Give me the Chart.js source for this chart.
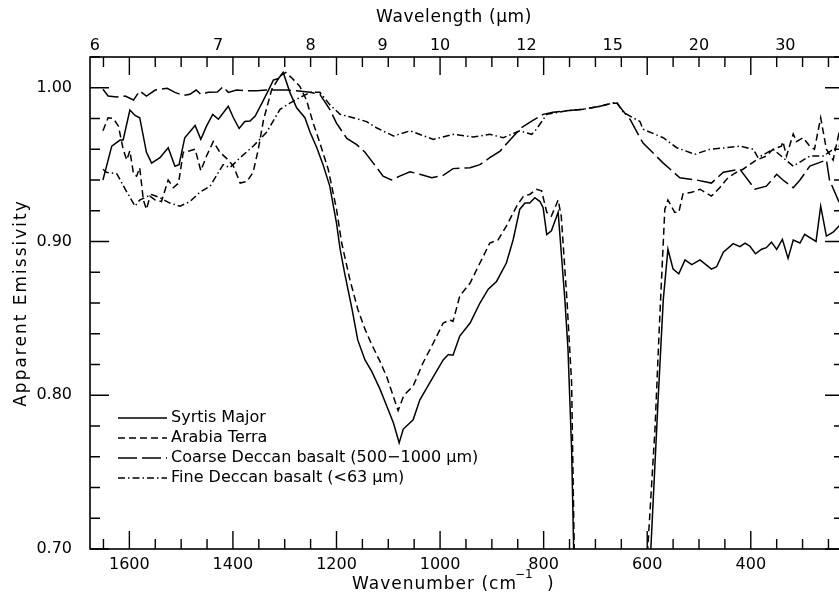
<!DOCTYPE html>
<html>
<head>
<meta charset="utf-8">
<script src="https://cdn.jsdelivr.net/npm/chart.js@4.4.1/dist/chart.umd.min.js"></script>
<style>
  html, body { margin: 0; padding: 0; background: #fff; overflow: hidden; }
  canvas { display: block; }
</style>
</head>
<body>
<canvas id="spectra" width="850" height="597"></canvas>
<script>
// ---- axis labels ----
const wnLabels = [1600, 1400, 1200, 1000, 800, 600, 400];      // bottom, cm-1
const wlLabels = [6, 7, 8, 9, 10, 12, 15, 20, 30];             // top, microns
const yLabels = [0.70, 0.80, 0.90, 1.00];

// ---- Syrtis Major (TES) ----
const syrtisWn = [1651,1634,1618,1612,1599,1589,1580,1567,1557,1541,
  1525,1512,1504,1493,1473,1462,1451,1439,1428,1409,
  1399,1388,1377,1367,1357,1344,1332,1322,1312,1303,
  1290,1277,1261,1251,1238,1226,1213,1200,1193,1184,
  1170,1159,1145,1132,1116,1103,1090,1079,1071,1052,
  1039,1020,994,984,975,962,942,923,907,891,
  872,859,846,836,827,817,807,801,794,785,
  772,769,759,753,746,742,738,670,597,593,
  579,569,560,550,539,527,514,498,476,466,
  453,434,421,411,402,391,379,370,360,350,
  339,328,318,305,296,274,265,254,241,230,
  220];
const syrtisVal = [0.940,0.962,0.966,0.966,0.9855,0.982,0.9805,0.958,0.951,0.9545,
  0.961,0.949,0.950,0.9675,0.9755,0.9665,0.975,0.9827,0.9795,0.988,
  0.9805,0.9735,0.978,0.9783,0.9816,0.990,0.998,1.005,1.006,1.010,
  0.997,0.987,0.9805,0.971,0.961,0.950,0.936,0.912,0.895,0.879,
  0.856,0.836,0.823,0.8155,0.804,0.793,0.782,0.769,0.778,0.784,
  0.797,0.808,0.823,0.8265,0.826,0.8385,0.847,0.860,0.869,0.874,
  0.886,0.901,0.921,0.925,0.925,0.9285,0.926,0.922,0.9045,0.907,
  0.919,0.906,0.862,0.830,0.765,0.700,0.640,null,0.660,0.700,
  0.797,0.862,0.895,0.882,0.879,0.888,0.885,0.888,0.882,0.8836,
  0.893,0.8986,0.8966,0.899,0.897,0.892,0.895,0.896,0.8996,0.8949,
  0.9014,0.889,0.901,0.899,0.9046,0.900,0.923,0.9035,0.906,0.910,
  0.912];

// ---- Arabia Terra (TES) ----
const arabiaWn = [1651,1641,1631,1621,1612,1605,1599,1592,1586,1580,
  1573,1567,1560,1550,1538,1525,1515,1505,1496,1483,
  1473,1462,1451,1438,1425,1409,1399,1386,1373,1361,
  1351,1341,1325,1309,1298,1287,1271,1258,1245,1232,
  1216,1200,1190,1174,1159,1145,1132,1116,1103,1090,
  1081,1071,1065,1052,1033,1013,994,981,975,962,
  942,923,904,888,872,852,839,827,814,804,
  794,785,772,766,755,746,741,737,670,603,
  599,585,576,566,560,547,539,531,514,498,
  476,460,444,428,415,402,389,370,357,341,
  338,331,318,312,299,286,277,265,254,241,
  230,220];
const arabiaVal = [0.972,0.9805,0.980,0.975,0.960,0.953,0.959,0.944,0.9425,0.948,
  0.927,0.921,0.9295,0.927,0.926,0.940,0.935,0.938,0.958,0.959,
  0.960,0.946,0.9556,0.965,0.958,0.953,0.949,0.938,0.939,0.945,
  0.960,0.979,0.999,1.0076,1.010,1.0066,1.001,0.992,0.977,0.964,
  0.947,0.921,0.899,0.875,0.856,0.843,0.833,0.822,0.812,0.799,
  0.790,0.799,0.8016,0.806,0.821,0.834,0.847,0.849,0.848,0.8645,
  0.873,0.886,0.899,0.901,0.910,0.923,0.9295,0.9306,0.934,0.933,
  0.919,0.9165,0.927,0.9165,0.862,0.808,0.700,0.640,null,0.640,
  0.700,0.778,0.849,0.921,0.927,0.919,0.919,0.931,0.932,0.934,
  0.9295,0.935,0.9415,0.945,0.947,0.950,0.953,0.9556,0.960,0.962,
  0.965,0.9556,0.970,0.965,0.9675,0.962,0.960,0.9805,0.960,0.953,
  0.970,0.966];

// ---- Coarse Deccan basalt (lab) ----
const coarseWn = [1651,1641,1624,1608,1592,1580,1567,1550,1527,1512,
  1496,1483,1471,1462,1448,1430,1419,1409,1393,1373,
  1354,1335,1316,1296,1277,1251,1232,1213,1200,1180,
  1161,1145,1129,1110,1094,1078,1058,1039,1016,994,
  975,942,923,904,884,865,843,820,801,782,
  756,724,691,667,659,633,614,608,569,537,
  505,476,453,421,392,370,350,338,318,305,
  286,254,248,230,220];
const coarseVal = [0.999,0.9946,0.994,0.9946,0.992,0.998,0.9946,0.9985,0.9996,0.997,
  0.995,0.9957,0.9985,0.9957,0.997,0.9972,1.0007,0.997,0.9985,0.998,
  0.998,0.9985,0.9985,0.9985,0.998,0.997,0.9957,0.986,0.977,0.967,
  0.963,0.958,0.951,0.9425,0.940,0.9425,0.9454,0.9437,0.9415,0.943,
  0.9474,0.948,0.950,0.9545,0.9588,0.966,0.974,0.979,0.9827,0.984,
  0.985,0.986,0.988,0.990,0.990,0.9794,0.9675,0.964,0.951,0.9415,
  0.940,0.938,0.945,0.947,0.934,0.936,0.9437,0.940,0.935,0.940,
  0.949,0.953,0.940,0.926,0.922];

// ---- Fine Deccan basalt (lab) ----
const fineWn = [1651,1644,1624,1608,1589,1580,1557,1541,1522,1502,
  1483,1464,1444,1419,1406,1386,1361,1335,1309,1290,
  1271,1251,1232,1213,1193,1168,1142,1123,1090,1058,
  1013,975,936,904,878,846,823,814,794,756,
  724,691,667,659,646,614,608,569,543,508,
  479,447,421,395,386,357,318,286,260,241,
  230,220];
const fineVal = [0.947,0.945,0.944,0.934,0.923,0.927,0.9306,0.9285,0.925,0.923,
  0.926,0.932,0.936,0.950,0.948,0.9545,0.962,0.971,0.986,0.990,
  0.9936,0.997,0.997,0.989,0.9827,0.9805,0.978,0.974,0.9686,0.972,
  0.9664,0.9697,0.968,0.9697,0.9675,0.972,0.9697,0.973,0.9827,0.985,
  0.986,0.988,0.990,0.9907,0.984,0.978,0.973,0.9675,0.961,0.9567,
  0.960,0.961,0.962,0.960,0.9545,0.960,0.949,0.9556,0.9556,0.960,
  0.962,0.963];

const FONT = 'DejaVu Sans';
Chart.defaults.font.family = FONT;
Chart.defaults.font.size = 16;
Chart.defaults.color = '#000';

function toPoints(wn, val) {
  return wn.map((w, i) => ({ x: w, y: val[i] }));
}

function series(label, wn, val, dash) {
  return {
    label: label,
    data: toPoints(wn, val),
    borderColor: '#000',
    borderWidth: 1.5,
    borderDash: dash,
    pointRadius: 0,
    tension: 0,
    spanGaps: false,
    fill: false
  };
}

// border box + inward tick marks on all four sides, wavelength labels on top
const frame = {
  id: 'frame',
  afterDraw(chart) {
    const { ctx, chartArea: a, scales } = chart;
    ctx.save();
    ctx.strokeStyle = '#000';
    ctx.setLineDash([]);
    ctx.lineWidth = 1.6;
    ctx.strokeRect(a.left, a.top, a.right - a.left, a.bottom - a.top);
    ctx.lineWidth = 1.4;
    ctx.beginPath();
    for (let w = 250; w <= 1650; w += 50) {
      const px = scales.x.getPixelForValue(w);
      const len = w % 200 === 0 ? 18 : 10;
      ctx.moveTo(px, a.bottom); ctx.lineTo(px, a.bottom - len);
      ctx.moveTo(px, a.top); ctx.lineTo(px, a.top + len);
    }
    for (let i = 0; i <= 16; i++) {
      const py = scales.y.getPixelForValue(0.70 + i * 0.02);
      const len = i % 5 === 0 ? 19 : 10;
      ctx.moveTo(a.left, py); ctx.lineTo(a.left + len, py);
      ctx.moveTo(a.right, py); ctx.lineTo(a.right - len, py);
    }
    ctx.stroke();

    ctx.fillStyle = '#000';
    ctx.font = '16px ' + FONT;
    ctx.textAlign = 'center';
    ctx.textBaseline = 'middle';
    wlLabels.forEach(l => {
      ctx.fillText(String(l), scales.x.getPixelForValue(10000 / l), 46);
    });
    ctx.restore();
  }
};

// axis titles and the in-plot legend
const annotations = {
  id: 'annotations',
  afterDraw(chart) {
    const { ctx } = chart;
    ctx.save();
    ctx.fillStyle = '#000';
    ctx.textBaseline = 'middle';

    ctx.font = '17px ' + FONT;
    ctx.letterSpacing = '0.6px';
    ctx.textAlign = 'center';
    ctx.fillText('Wavelength (\u03bcm)', 454, 18);

    // wavenumber title with raised -1
    ctx.letterSpacing = '1px';
    ctx.textAlign = 'left';
    ctx.fillText('Wavenumber (cm', 352, 585);
    ctx.font = '12px ' + FONT;
    ctx.letterSpacing = '0px';
    ctx.fillText('\u22121', 515, 575);
    ctx.font = '17px ' + FONT;
    ctx.fillText(')', 547, 585);

    ctx.save();
    ctx.translate(22, 303);
    ctx.rotate(-Math.PI / 2);
    ctx.letterSpacing = '2px';
    ctx.textAlign = 'center';
    ctx.fillText('Apparent Emissivity', 0, 0);
    ctx.restore();

    ctx.font = '16px ' + FONT;
    ctx.letterSpacing = '0px';
    ctx.textAlign = 'left';
    ctx.lineWidth = 1.5;
    ctx.strokeStyle = '#000';
    chart.data.datasets.forEach((ds, i) => {
      const y = 418 + i * 20;
      ctx.setLineDash(ds.borderDash || []);
      ctx.beginPath();
      ctx.moveTo(118, y);
      ctx.lineTo(167, y);
      ctx.stroke();
      ctx.fillText(ds.label, 171, y);
    });
    ctx.restore();
  }
};

new Chart(document.getElementById('spectra'), {
  type: 'line',
  data: {
    datasets: [
      series('Syrtis Major', syrtisWn, syrtisVal, []),
      series('Arabia Terra', arabiaWn, arabiaVal, [7, 4]),
      series('Coarse Deccan basalt (500\u22121000 \u03bcm)', coarseWn, coarseVal, [19, 5]),
      series('Fine Deccan basalt (<63 \u03bcm)', fineWn, fineVal, [7, 3, 1.5, 3])
    ]
  },
  options: {
    responsive: false,
    animation: false,
    layout: { padding: { left: 0, right: 6, top: 57, bottom: 0 } },
    plugins: {
      legend: { display: false },
      tooltip: { enabled: false }
    },
    scales: {
      x: {
        type: 'linear',
        position: 'bottom',
        reverse: true,
        min: 220,
        max: 1676,
        grid: { display: false },
        border: { display: false },
        ticks: {
          autoSkip: false,
          maxRotation: 0,
          padding: -2,
          callback: v => wnLabels.includes(v) ? String(v) : ''
        },
        afterBuildTicks: s => { s.ticks = wnLabels.map(v => ({ value: v })); },
        afterFit: s => { s.height = 48; }
      },
      y: {
        min: 0.70,
        max: 1.02,
        grid: { display: false },
        border: { display: false },
        ticks: {
          padding: 10,
          callback: v => v.toFixed(2)
        },
        afterBuildTicks: s => { s.ticks = yLabels.map(v => ({ value: v })); },
        afterFit: s => { s.width = 90; }
      }
    }
  },
  plugins: [frame, annotations]
});
</script>
</body>
</html>
